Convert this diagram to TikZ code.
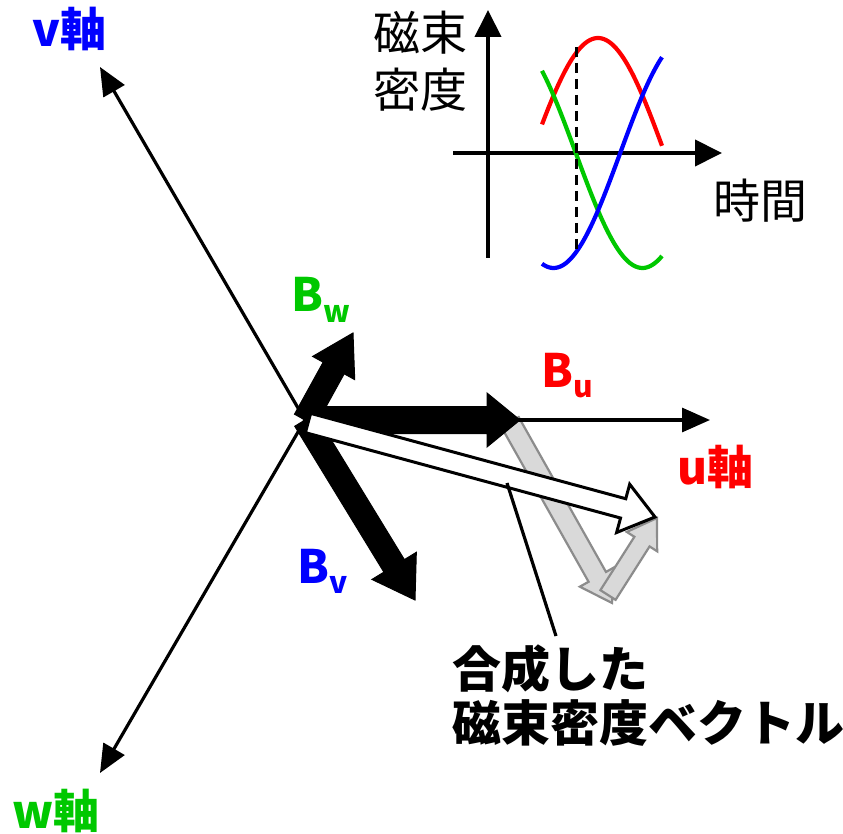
\documentclass[tikz,border=0pt]{standalone}
\usepackage{fontspec}
\setmainfont{Noto Sans CJK JP}
\usepackage{tikz}
\usetikzlibrary{arrows.meta,calc}
\definecolor{uRed}{HTML}{FF0000}
\definecolor{vBlue}{HTML}{0000FF}
\definecolor{wGreen}{HTML}{00C800}
\definecolor{ghost}{HTML}{D9D9D9}
\definecolor{ghostline}{HTML}{8C8C8C}
\tikzset{>=Latex,axis/.style={line width=3.2pt,-{Triangle[length=28pt,width=24pt]}},plotaxis/.style={line width=4pt,-{Triangle[length=27pt,width=26pt]}},wave/.style={line width=4.2pt,domain=542:662,samples=61,smooth},biglabel/.style={font=\fontsize{46}{46}\selectfont\bfseries,inner sep=0pt},plainlabel/.style={font=\fontsize{47}{57}\selectfont,inner sep=0pt,align=center},solidvec/.style={fill=black,draw=black,line width=1pt},ghostvec/.style={fill=ghost,draw=ghostline,line width=2.2pt},sumvec/.style={fill=white,draw=black,line width=3pt}}
% block arrow: [style]{from}{to}{shaft half width}{head half width}{head length}
\newcommand\fatarrow[6][]{%
\coordinate (fa-b) at ($(#3)!#6!(#2)$);
\draw[#1] ($(#2)!#4!90:(#3)$) -- ($(fa-b)!#4!-90:(#2)$) -- ($(fa-b)!#5!-90:(#2)$) -- (#3)
 -- ($(fa-b)!#5!90:(#2)$) -- ($(fa-b)!#4!90:(#2)$) -- ($(#2)!#4!-90:(#3)$) -- cycle;}
\newcommand\Bvec[1]{B\raisebox{-10pt}{\fontsize{30}{30}\selectfont #1}}

\begin{document}
\begin{tikzpicture}[x=1pt,y=-1pt]
\useasboundingbox (0,0) rectangle (843,834);
\coordinate (O) at (305,420);
\coordinate (uEnd) at (710,420);
\coordinate (vEnd) at (100,67);
\coordinate (wEnd) at (100,773);
\coordinate (BuTip) at (520,420);
\coordinate (BwTip) at (353,333);
\coordinate (BvTip) at (415,600);
\coordinate (sumStart) at (308,423);
\coordinate (sumTip) at (655,517);
\coordinate (gvStart) at (510,422);
\coordinate (gvTip) at (612,603);
\coordinate (gwStart) at (608,595);
\coordinate (gwTip) at (657,518);
% moved components
\fatarrow[ghostvec]{gvStart}{gvTip}{10pt}{20pt}{30pt}
\fatarrow[ghostvec]{gwStart}{gwTip}{9pt}{18pt}{28pt}
% axes
\draw[axis] (O) -- (uEnd);
\draw[axis] (O) -- (vEnd);
\draw[axis] (O) -- (wEnd);
\fatarrow[solidvec]{O}{BuTip}{13.5pt}{27pt}{33pt}
\fatarrow[solidvec]{O}{BwTip}{12pt}{24pt}{40pt}
\fatarrow[solidvec]{O}{BvTip}{12pt}{26pt}{40pt}
\fatarrow[sumvec]{sumStart}{sumTip}{10pt}{25pt}{33pt}
\node[biglabel,text=vBlue,anchor=base west] (vlab) at (32,47) {v軸};
\node[biglabel,text=wGreen,anchor=base west] (wlab) at (12,828) {w軸};
\node[biglabel,text=uRed,anchor=base west] (ulab) at (677,484) {u軸};
\node[biglabel,text=wGreen,anchor=base west] (Bwlab) at (291,312) {\Bvec{w}};
\node[biglabel,text=uRed,anchor=base west] (Bulab) at (541,387) {\Bvec{u}};
\node[biglabel,text=vBlue,anchor=base west] (Bvlab) at (297,583) {\Bvec{v}};
\node[biglabel,font=\fontsize{49}{54}\selectfont\bfseries,align=left,anchor=north west] (sumlab) at (452,645) {合成した\\磁束密度ベクトル};
\coordinate (leadA) at (507,483);
\coordinate (leadB) at (556,636);
\draw[line width=3.2pt] (leadA) -- (leadB);
% inset: three phase waves
\coordinate (tStart) at (453,153);
\coordinate (tEnd) at (722,153);
\coordinate (bStart) at (488,258);
\coordinate (bEnd) at (488,10);
\draw[plotaxis] (tStart) -- (tEnd);
\draw[plotaxis] (bStart) -- (bEnd);
\draw[wave,uRed] plot (\x,{153-115*cos((\x-598)*1.35)});
\draw[wave,wGreen] plot (\x,{153-115*cos((\x-598)*1.35+120)});
\draw[wave,vBlue] plot (\x,{153-115*cos((\x-598)*1.35-120)});
\draw[line width=3pt,dash pattern=on 10pt off 6pt] (576,47) -- (576,250);
\node[plainlabel] (bLab) at (420,61) {磁束\\密度};
\node[plainlabel] (tLab) at (760,201) {時間};
\end{tikzpicture}
\end{document}
